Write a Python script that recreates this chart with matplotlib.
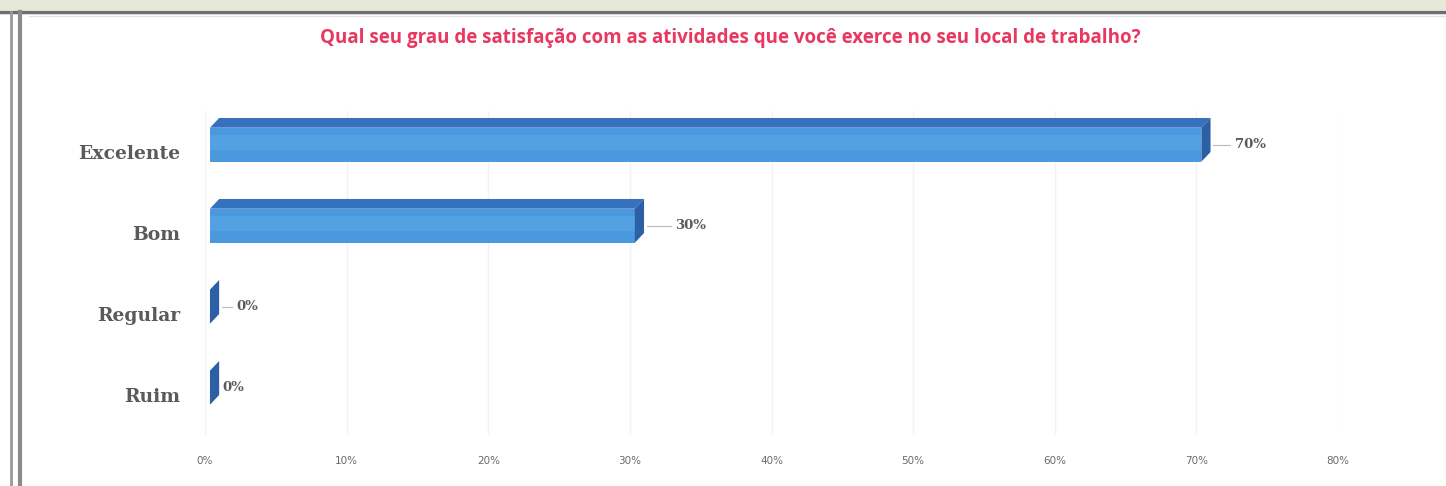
import matplotlib
matplotlib.use("Agg")
import matplotlib.pyplot as plt
from matplotlib.patches import Polygon, Rectangle
from matplotlib.lines import Line2D

categories = ["Excelente", "Bom", "Regular", "Ruim"]
values = [0.70, 0.30, 0.0, 0.0]
value_labels = ["70%", "30%", "0%", "0%"]
xticks = [0.0, 0.1, 0.2, 0.3, 0.4, 0.5, 0.6, 0.7, 0.8]
xtick_labels = ["0%", "10%", "20%", "30%", "40%", "50%", "60%", "70%", "80%"]
title = "Qual seu grau de satisfação com as atividades que você exerce no seu local de trabalho?"

W, H = 1446, 486
fig = plt.figure(figsize=(W / 100, H / 100), dpi=100)
fig.patch.set_facecolor("white")

# screenshot frame
fig.add_artist(Rectangle((0, 1 - 10 / H), 1, 10 / H, transform=fig.transFigure,
                         facecolor="#e4e9da", edgecolor="none", zorder=0))
fig.add_artist(Line2D([0, 1], [1 - 12 / H, 1 - 12 / H], transform=fig.transFigure,
                      color="#6e6e6e", lw=2.5))
fig.add_artist(Line2D([0.02, 1], [1 - 16 / H, 1 - 16 / H], transform=fig.transFigure,
                      color="#e2e2e2", lw=1))
for xp, c, lw in [(11, "#9a9a9a", 2), (20, "#8a8a8a", 3)]:
    fig.add_artist(Line2D([xp / W, xp / W], [0, 1 - 12 / H], transform=fig.transFigure,
                          color=c, lw=lw))

left, right = 205 / W, 1338 / W
top_px, bot_px = 111.5, 435.5
ax = fig.add_axes([left, 1 - bot_px / H, right - left, (bot_px - top_px) / H])
ax.set_xlim(0, 0.8)
pos = list(range(len(categories)))
ax.set_ylim(len(categories) - 0.5, -0.5)
for s in ax.spines.values():
    s.set_visible(False)
ax.set_xticks(xticks)
ax.set_xticklabels(xtick_labels, fontsize=7.5, color="#6a6a6a", family="Liberation Sans Narrow")
ax.tick_params(axis="x", length=0, pad=15)
ax.set_yticks(pos)
ax.set_yticklabels(categories, fontsize=13.5, color="#5a5a5a", family="DejaVu Serif",
                   fontweight="bold")
ax.tick_params(axis="y", length=0, pad=18)
ax.grid(axis="x", color="#f3f3f3", lw=1)
ax.set_axisbelow(True)

# pseudo-3D bars
bar_h = 0.42
off = -0.09
x0 = 0.0035   # small offset of the bar start (3D look)
dx = 0.0065   # depth in x (data units)
dy = 0.12     # depth in y (data units)
front_c = "#4a98dd"
top_c = "#3571bd"
side_c = "#2b5fa6"
for p, v in zip(pos, values):
    c = p + off
    y0, y1 = c - bar_h / 2, c + bar_h / 2  # y0 is top (inverted axis)
    xe = x0 + v
    if v > 0:
        ax.add_patch(Rectangle((x0, y0), v, bar_h, facecolor=front_c, edgecolor="none", zorder=3))
        ax.add_patch(Rectangle((x0, y0 + bar_h * 0.22), v, bar_h * 0.45,
                               facecolor="#5aa8e8", edgecolor="none", zorder=3.1, alpha=0.6))
        ax.add_patch(Polygon([(x0, y0), (xe, y0), (xe + dx, y0 - dy), (x0 + dx, y0 - dy)],
                             closed=True, facecolor=top_c, edgecolor="none", zorder=3))
    ax.add_patch(Polygon([(xe, y0), (xe + dx, y0 - dy), (xe + dx, y1 - dy), (xe, y1)],
                         closed=True, facecolor=side_c, edgecolor="none", zorder=3.2))

# data labels
label_dx = [0.017, 0.022, 0.012, 0.002]
for p, v, lab, ldx in zip(pos, values, value_labels, label_dx):
    c = p + off
    xe = x0 + v + dx
    ax.text(xe + ldx, c, lab, va="center", ha="left", fontsize=9.5,
            color="#5a5a5a", fontweight="bold", family="DejaVu Serif", zorder=5)
    if ldx > 0.01:
        ax.plot([xe + 0.002, xe + ldx - 0.003], [c, c], color="#bbbbbb", lw=0.8, zorder=4)

fig.text(730 / W, 1 - 38 / H, title, ha="center", va="center", fontsize=13.5,
         color="#e8385f", fontweight="bold", family="Open Sans")

fig.savefig("out.png", dpi=100)
